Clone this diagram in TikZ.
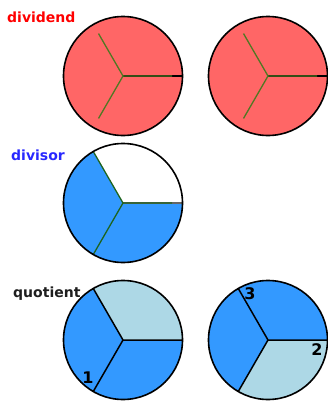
\documentclass[tikz,border=0pt]{standalone}
\usepackage{fontspec}
\setmainfont{DejaVu Sans}
\begin{document}
\begin{tikzpicture}[x=1pt,y=1pt,
  rim/.style={draw=black,line width=1.6pt},
  spokeA/.style={draw={rgb,255:red,80;green,120;blue,35},line width=1.3pt},
  spokeB/.style={draw={rgb,255:red,30;green,100;blue,30},line width=1.3pt},
  spokeK/.style={draw=black,line width=1.5pt},
  lbl/.style={font=\bfseries\fontsize{14}{14}\selectfont,inner sep=0pt,anchor=base west},
  num/.style={font=\bfseries\fontsize{16}{16}\selectfont,inner sep=0pt}]
\definecolor{redfill}{RGB}{255,102,102}
\definecolor{bluefill}{RGB}{51,153,255}
\definecolor{lightfill}{RGB}{173,216,230}
\useasboundingbox (0,0) rectangle (327,-402);
\def\R{59.5pt}
% dividend circles
\foreach \n/\cx in {d1/123,d2/268}{
  \coordinate (\n) at (\cx,-76);
  \fill[redfill] (\n) circle (\R);
  \draw[black,line width=1.3pt] (\n) -- ++(0:\R);
  \draw[spokeA] (\n) -- ++(0:49pt) (\n) -- ++(120:49pt) (\n) -- ++(240:49pt);
  \draw[rim] (\n) circle (\R);
}
\node[lbl,text=red] (tdividend) at (7,-22) {dividend};
% divisor
\coordinate (v) at (123,-203);
\fill[bluefill] (v) circle (\R);
\fill[white] (v) -- ++(0:\R) arc[start angle=0,end angle=120,radius=\R] -- cycle;
\draw[black!60,line width=1.3pt] (v) -- ++(0:\R);
\draw[spokeB] (v) -- ++(0:49pt) (v) -- ++(120:\R) (v) -- ++(240:\R);
\draw[rim] (v) circle (\R);
\node[lbl,text={rgb,255:red,40;green,40;blue,255}] (tdivisor) at (11,-160) {divisor};
% quotient 1
\coordinate (q1) at (123,-340);
\fill[bluefill] (q1) circle (\R);
\fill[lightfill] (q1) -- ++(0:\R) arc[start angle=0,end angle=120,radius=\R] -- cycle;
\draw[spokeK] (q1) -- ++(0:\R) (q1) -- ++(120:\R) (q1) -- ++(240:\R);
\draw[rim] (q1) circle (\R);
\node[lbl,text={rgb,255:red,30;green,30;blue,30}] (tquotient) at (13,-297) {quotient};
\node[num] (n1) at (88,-378) {1};
% quotient 2
\coordinate (q2) at (268,-340);
\fill[bluefill] (q2) circle (\R);
\fill[lightfill] (q2) -- ++(240:\R) arc[start angle=240,end angle=360,radius=\R] -- cycle;
\draw[spokeK] (q2) -- ++(0:\R) (q2) -- ++(120:\R) (q2) -- ++(240:\R);
\draw[rim] (q2) circle (\R);
\node[num] (n3) at (250,-294) {3};
\node[num] (n2) at (317,-350) {2};
\end{tikzpicture}
\end{document}
